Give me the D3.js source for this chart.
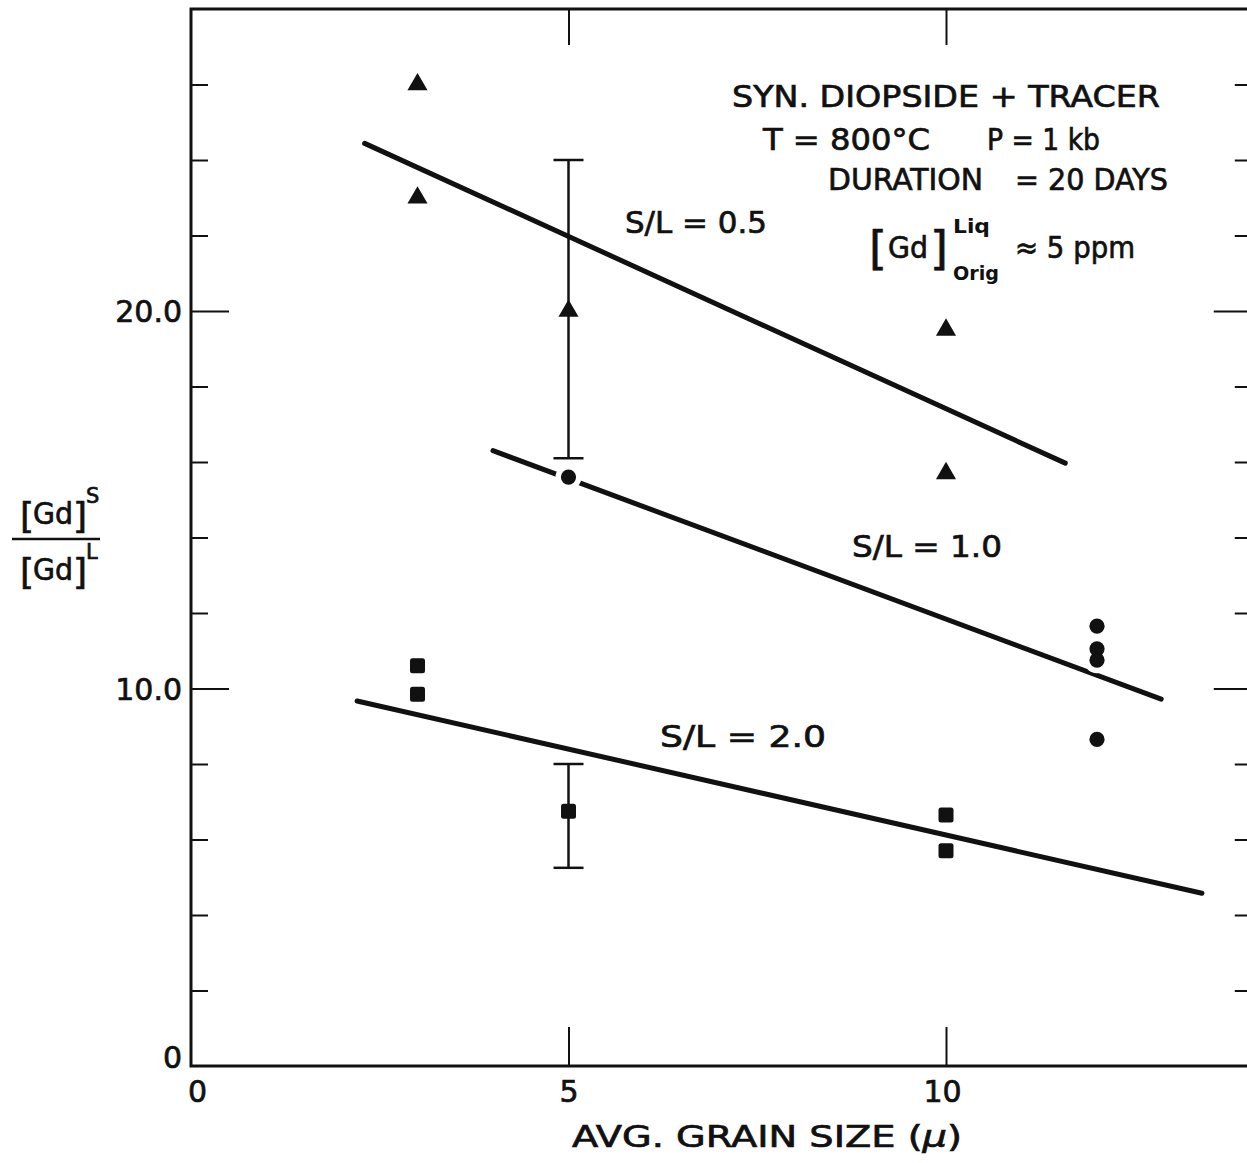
<!DOCTYPE html>
<html>
<head>
<meta charset="utf-8">
<script src="https://cdn.jsdelivr.net/npm/d3@7"></script>
<style>
  html, body { margin: 0; padding: 0; background: #fff; }
  svg { display: block; }
  text { font-family: "DejaVu Sans", sans-serif; fill: #111; stroke: #111; stroke-width: 0.7px; }
</style>
</head>
<body>
<svg id="chart" width="1247" height="1163"></svg>
<script>
// Partition ratio [Gd]S/[Gd]L against average grain size (microns)
// S/L = 0.5 (triangles)
const grainTriangle = [3, 3, 5, 10, 10];
const ratioTriangle = [26.0, 23.0, 20.0, 19.5, 15.7];
// S/L = 1.0 (circles)
const grainCircle = [5, 12, 12, 12, 12];
const ratioCircle = [15.6, 11.65, 11.05, 10.75, 8.65];
// S/L = 2.0 (squares)
const grainSquare = [3, 3, 5, 10, 10];
const ratioSquare = [10.6, 9.85, 6.75, 6.65, 5.7];

// Error bars at 5 microns
const errGrain = [5, 5];
const errLow = [16.1, 5.25];
const errHigh = [24.0, 8.0];

// Fitted trend lines (start/end in data units)
const fitGrain = [[2.3, 11.58], [4.0, 12.85], [2.2, 13.39]];
const fitRatio = [[24.44, 15.97], [16.30, 9.72], [9.67, 4.575]];

// Axis ticks
const xTicks = [0, 5, 10];
const xTickLabels = ["0", "5", "10"];
const yMajor = [0, 10, 20];
const yMajorLabels = ["0", "10.0", "20.0"];
const yMinor = [2, 4, 6, 8, 12, 14, 16, 18, 22, 24, 26];

const xMax = 14.05, yMax = 28;
const ink = "#111";

const svg = d3.select("#chart");
const x = d3.scaleLinear().domain([0, xMax]).range([191, 191 + xMax * 75.5]);
const y = d3.scaleLinear().domain([0, yMax]).range([1066, 1066 - yMax * 37.75]);

// Frame
svg.append("rect")
  .attr("x", x(0)).attr("y", y(yMax))
  .attr("width", x(xMax) - x(0)).attr("height", y(0) - y(yMax))
  .attr("fill", "none").attr("stroke", ink).attr("stroke-width", 3);

function styleTicks(g, w) {
  g.select(".domain").remove();
  g.selectAll(".tick line").attr("stroke", ink).attr("stroke-width", w);
}

// Inward tick marks on all four sides
svg.append("g").attr("transform", `translate(0,${y(0)})`)
  .call(d3.axisBottom(x).tickValues([5, 10]).tickSize(-39).tickFormat(""))
  .call(g => styleTicks(g, 2));
svg.append("g").attr("transform", `translate(0,${y(yMax)})`)
  .call(d3.axisTop(x).tickValues([5, 10]).tickSize(-36).tickFormat(""))
  .call(g => styleTicks(g, 2));
svg.append("g").attr("transform", `translate(${x(0)},0)`)
  .call(d3.axisLeft(y).tickValues([10, 20]).tickSize(-38).tickFormat(""))
  .call(g => styleTicks(g, 2));
svg.append("g").attr("transform", `translate(${x(0)},0)`)
  .call(d3.axisLeft(y).tickValues(yMinor).tickSize(-17).tickFormat(""))
  .call(g => styleTicks(g, 2));
svg.append("g").attr("transform", `translate(${x(xMax)},0)`)
  .call(d3.axisRight(y).tickValues([10, 20]).tickSize(-38).tickFormat(""))
  .call(g => styleTicks(g, 2));
svg.append("g").attr("transform", `translate(${x(xMax)},0)`)
  .call(d3.axisRight(y).tickValues(yMinor).tickSize(-17).tickFormat(""))
  .call(g => styleTicks(g, 2));

// Tick labels
const xLab = svg.append("g").attr("transform", `translate(0,${y(0)})`)
  .call(d3.axisBottom(x).tickValues(xTicks).tickSize(0).tickPadding(15)
    .tickFormat((d, i) => xTickLabels[i]));
xLab.select(".domain").remove();
xLab.selectAll("text").attr("font-size", 30).attr("fill", ink)
  .attr("font-family", "DejaVu Sans, sans-serif")
  .attr("dx", (d) => d === 0 ? 6 : (d === 10 ? -4 : 0));

const yLab = svg.append("g").attr("transform", `translate(${x(0)},0)`)
  .call(d3.axisLeft(y).tickValues(yMajor).tickSize(0).tickPadding(9)
    .tickFormat((d, i) => yMajorLabels[i]));
yLab.select(".domain").remove();
yLab.selectAll("text").attr("font-size", 30).attr("fill", ink)
  .attr("font-family", "DejaVu Sans, sans-serif")
  .attr("dy", (d) => d === 0 ? "0.05em" : "0.36em");

// Fitted lines
const line = d3.line().x(d => x(d[0])).y(d => y(d[1]));
svg.append("g").selectAll("path")
  .data(fitGrain.map((g, i) => [[g[0], fitRatio[i][0]], [g[1], fitRatio[i][1]]]))
  .join("path")
  .attr("d", line)
  .attr("fill", "none").attr("stroke", ink)
  .attr("stroke-width", 5).attr("stroke-linecap", "round");

// Error bars
const eb = svg.append("g").attr("stroke", ink).attr("stroke-width", 2.5);
errGrain.forEach((g, i) => {
  eb.append("line").attr("x1", x(g)).attr("x2", x(g))
    .attr("y1", y(errLow[i])).attr("y2", y(errHigh[i]));
  [errLow[i], errHigh[i]].forEach(v => {
    eb.append("line").attr("x1", x(g) - 15).attr("x2", x(g) + 15)
      .attr("y1", y(v)).attr("y2", y(v));
  });
});

// Triangles
const tri = d3.symbol().type(d3.symbolTriangle).size(175);
svg.append("g").selectAll("path")
  .data(grainTriangle.map((g, i) => [g, ratioTriangle[i]]))
  .join("path")
  .attr("d", tri)
  .attr("transform", d => `translate(${x(d[0])},${y(d[1])})`)
  .attr("fill", ink);

// Circles, with a white gap where a circle sits on its fitted line
const circ = grainCircle.map((g, i) => [g, ratioCircle[i]]);
svg.append("g").selectAll("circle").data(circ).join("circle")
  .attr("cx", d => x(d[0])).attr("cy", d => y(d[1])).attr("r", 13)
  .attr("fill", "#fff");
svg.append("g").selectAll("circle").data(circ).join("circle")
  .attr("cx", d => x(d[0])).attr("cy", d => y(d[1])).attr("r", 7.6)
  .attr("fill", ink);

// Squares
svg.append("g").selectAll("rect")
  .data(grainSquare.map((g, i) => [g, ratioSquare[i]]))
  .join("rect")
  .attr("x", d => x(d[0]) - 7.5).attr("y", d => y(d[1]) - 7.5)
  .attr("width", 15).attr("height", 15).attr("rx", 2.5)
  .attr("fill", ink);

// Text helper
function label(tx, ty, str, size, len, opts) {
  const t = svg.append("text").attr("x", tx).attr("y", ty)
    .attr("font-size", size).text(str);
  if (len) t.attr("textLength", len).attr("lengthAdjust", "spacingAndGlyphs");
  if (opts && opts.weight) t.attr("font-weight", opts.weight);
  if (opts && opts.thin) t.style("stroke-width", "0px");
  return t;
}

// Experiment conditions
label(732, 107, "SYN. DIOPSIDE + TRACER", 30, 428);
label(763, 150, "T = 800°C", 30, 167);
label(987, 150, "P = 1 kb", 30, 113);
label(828, 190, "DURATION", 30, 155);
label(1015, 190, "= 20 DAYS", 30, 153);
label(869, 264, "[", 46);
label(888, 258, "Gd", 30, 40);
label(930, 264, "]", 46);
label(953, 233, "Liq", 19, 37, { weight: "bold", thin: true });
label(953, 280, "Orig", 19, 46, { weight: "bold", thin: true });
label(1015, 258, "≈ 5 ppm", 30, 120);

// Line labels
label(625, 233, "S/L = 0.5", 30, 142);
label(852, 557, "S/L = 1.0", 30, 150);
label(660, 747, "S/L = 2.0", 30, 166);

// Axis title
const xt = svg.append("text").attr("x", 572).attr("y", 1147).attr("font-size", 30)
  .attr("textLength", 390).attr("lengthAdjust", "spacingAndGlyphs");
xt.append("tspan").text("AVG. GRAIN SIZE (");
xt.append("tspan").attr("font-style", "italic").text("μ");
xt.append("tspan").text(")");

// Y title as a fraction
function bracketTerm(bx, base, sup) {
  label(bx, base + 4, "[", 36);
  label(bx + 13, base, "Gd", 30, 40);
  label(bx + 53, base + 4, "]", 36);
  label(bx + 66, base - 21, sup, 21);
}
bracketTerm(20, 524, "S");
svg.append("line").attr("x1", 12).attr("x2", 100).attr("y1", 539).attr("y2", 539)
  .attr("stroke", ink).attr("stroke-width", 2.5);
bracketTerm(20, 580, "L");
</script>
</body>
</html>
